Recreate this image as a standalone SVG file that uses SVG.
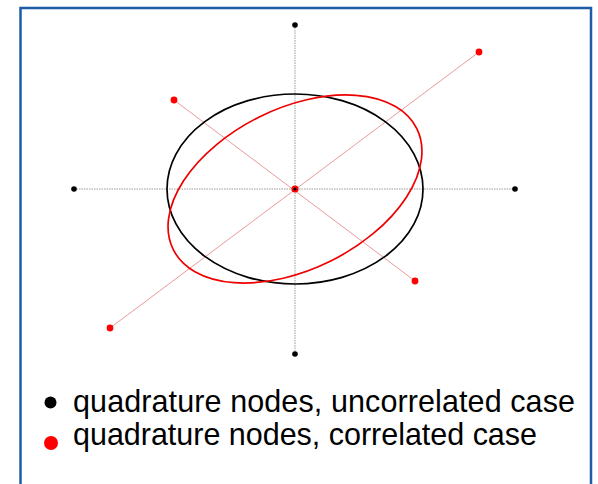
<svg xmlns="http://www.w3.org/2000/svg" width="598" height="484" viewBox="0 0 598 484">
<style>
.frame{fill:#fff;stroke:#1f5ca6;stroke-width:2.5}
.axis{stroke:#9a9a9a;stroke-width:1;stroke-dasharray:1.5 1}
.raxis{stroke:#e89a9a;stroke-width:1}
.bn{fill:#000}
.rn{fill:#f00}
.ell{fill:none;stroke-width:1.7}
.lbl{font-family:"Liberation Sans",Arial,sans-serif;font-size:30.5px;fill:#000}
</style>
<rect class="frame" x="20.5" y="8" width="570.5" height="490"/>
<g id="connectors">
<line class="axis" x1="74" y1="189" x2="515" y2="189"/>
<line class="axis" x1="295" y1="25" x2="295" y2="354"/>
<line class="raxis" x1="110" y1="328" x2="479" y2="52"/>
<line class="raxis" x1="174" y1="100" x2="415" y2="281"/>
</g>
<g id="ellipse-uncorrelated"><ellipse class="ell" stroke="#000" cx="295" cy="189" rx="128" ry="95"/></g>
<g id="ellipse-correlated"><ellipse class="ell" stroke="#e00" cx="295" cy="189" rx="136" ry="80.4" transform="rotate(-26.4 295 189)"/></g>
<g id="node-b-top"><circle class="bn" cx="295" cy="25" r="2.8"/></g>
<g id="node-b-bottom"><circle class="bn" cx="295" cy="354" r="2.8"/></g>
<g id="node-b-left"><circle class="bn" cx="74" cy="189" r="2.8"/></g>
<g id="node-b-right"><circle class="bn" cx="515" cy="189" r="2.8"/></g>
<g id="node-r-ur"><circle class="rn" cx="479" cy="52" r="3.4"/></g>
<g id="node-r-ll"><circle class="rn" cx="110" cy="328" r="3.4"/></g>
<g id="node-r-ul"><circle class="rn" cx="174" cy="100" r="3.4"/></g>
<g id="node-r-lr"><circle class="rn" cx="415" cy="281" r="3.4"/></g>
<g id="node-center"><circle class="rn" cx="295" cy="189" r="3.6"/><circle class="bn" cx="295" cy="189" r="1.6"/></g>
<g id="legend">
<circle class="bn" cx="50.5" cy="402.5" r="6"/>
<text class="lbl" x="73" y="411.5" textLength="502" lengthAdjust="spacing">quadrature nodes, uncorrelated case</text>
<circle class="rn" cx="51" cy="443" r="7"/>
<text class="lbl" x="73" y="444.5" textLength="464" lengthAdjust="spacing">quadrature nodes, correlated case</text>
</g>
</svg>
